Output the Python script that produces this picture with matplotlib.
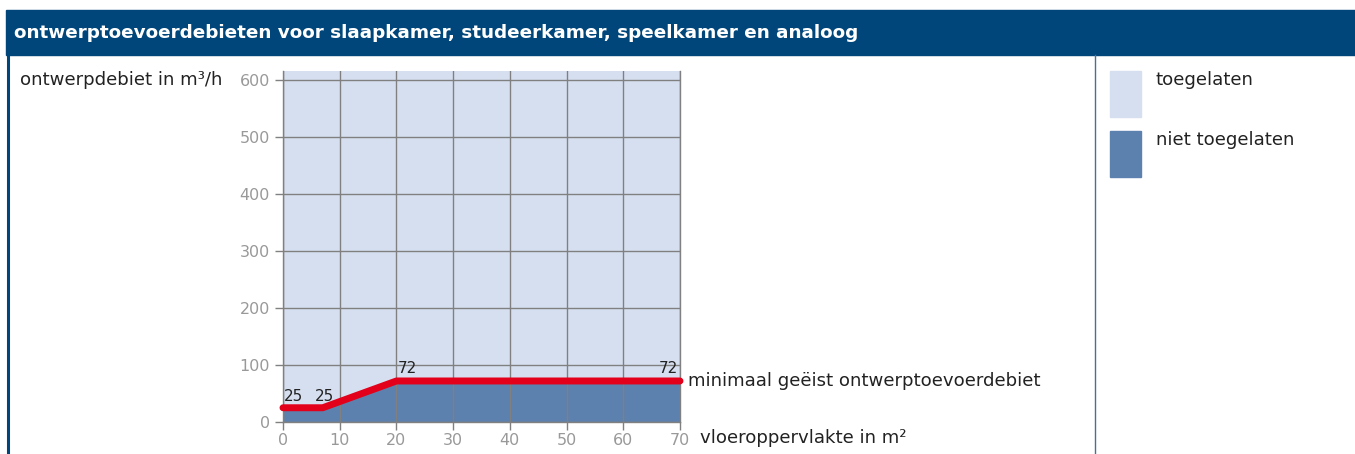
import matplotlib
matplotlib.use("Agg")
import matplotlib.pyplot as plt
from matplotlib.patches import Rectangle
from matplotlib.lines import Line2D

title = "ontwerptoevoerdebieten voor slaapkamer, studeerkamer, speelkamer en analoog"
y_label = "ontwerpdebiet in m³/h"
x_label = "vloeroppervlakte in m²"
line_label = "minimaal geëist ontwerptoevoerdebiet"
legend_labels = ["toegelaten", "niet toegelaten"]

area = [0, 7, 20, 70]          # m²
flow = [25, 25, 72, 72]        # m³/h
x_ticks = [0, 10, 20, 30, 40, 50, 60, 70]
y_ticks = [0, 100, 200, 300, 400, 500, 600]

HEADER = "#00467a"
LIGHT = "#d6dff0"
DARK = "#5d81ae"
RED = "#e2001a"
GRID = "#808080"
TICKTXT = "#999999"
TXT = "#222222"

W, H = 1355, 454
fig = plt.figure(figsize=(W / 100, H / 100), dpi=100)
plt.rcParams['font.family'] = ['DejaVu Sans']

def fx(px):
    return px / W

def fy(py):
    return 1 - py / H

# header bar
fig.patches.append(Rectangle((fx(6), fy(55)), fx(W - 6), (55 - 10) / H,
                             transform=fig.transFigure, color=HEADER, zorder=0))
fig.text(fx(14), fy(33), title, color="white", fontsize=13.2, fontweight="bold",
         va="center", ha="left")
# left frame line and divider
fig.add_artist(Line2D([fx(8), fx(8)], [fy(55), 0], transform=fig.transFigure,
                      color=HEADER, lw=2.2))
fig.add_artist(Line2D([fx(1095), fx(1095)], [fy(55), 0], transform=fig.transFigure,
                      color="#4a6f96", lw=1))

# axes
left, right, top, bottom = 283, 680, 71, 422
ax = fig.add_axes([fx(left), fy(bottom), (right - left) / W, (bottom - top) / H])
ymax = 616
ax.set_xlim(0, 70)
ax.set_ylim(0, ymax)
ax.set_facecolor(LIGHT)
ax.fill_between(area, flow, 0, color=DARK, lw=0, zorder=1)
ax.set_xticks(x_ticks)
ax.set_yticks(y_ticks)
ax.grid(True, color=GRID, lw=1, zorder=2)
ax.set_axisbelow(False)
for s in ["left", "bottom", "right"]:
    ax.spines[s].set_color(GRID)
    ax.spines[s].set_linewidth(1)
ax.spines["top"].set_visible(False)
ax.tick_params(axis="both", colors=GRID, labelcolor=TICKTXT, labelsize=11.5,
               length=6, width=1)
ax.tick_params(axis="x", pad=2)
ax.plot(area, flow, color=RED, lw=5, solid_capstyle="round",
        solid_joinstyle="round", zorder=5, clip_on=False)

# value labels
lfs = 11
ax.text(area[0] + 0.2, flow[0] + 7, str(flow[0]), fontsize=lfs, color=TXT,
        ha="left", va="bottom", zorder=6)
ax.text(area[1] + 0.3, flow[1] + 7, str(flow[1]), fontsize=lfs, color=TXT,
        ha="center", va="bottom", zorder=6)
ax.text(area[2] + 0.2, flow[2] + 9, str(flow[2]), fontsize=lfs, color=TXT,
        ha="left", va="bottom", zorder=6)
ax.text(area[3] - 0.3, flow[3] + 9, str(flow[3]), fontsize=lfs, color=TXT,
        ha="right", va="bottom", zorder=6)

# axis texts
tfs = 13.1
fig.text(fx(20), fy(80), y_label, fontsize=tfs, color=TXT, ha="left", va="center")
fig.text(fx(688), fy(381), line_label, fontsize=tfs, color=TXT, ha="left", va="center")
fig.text(fx(700), fy(438), x_label, fontsize=tfs, color=TXT, ha="left", va="center")

# legend
for i, (lab, col) in enumerate(zip(legend_labels, [LIGHT, DARK])):
    y0 = 71 + i * 60
    fig.patches.append(Rectangle((fx(1110), fy(y0 + 46)), fx(31), 46 / H,
                                 transform=fig.transFigure, color=col))
    fig.text(fx(1156), fy(y0 + 9), lab, fontsize=tfs, color=TXT,
             ha="left", va="center")

fig.savefig("out.png", dpi=100)
